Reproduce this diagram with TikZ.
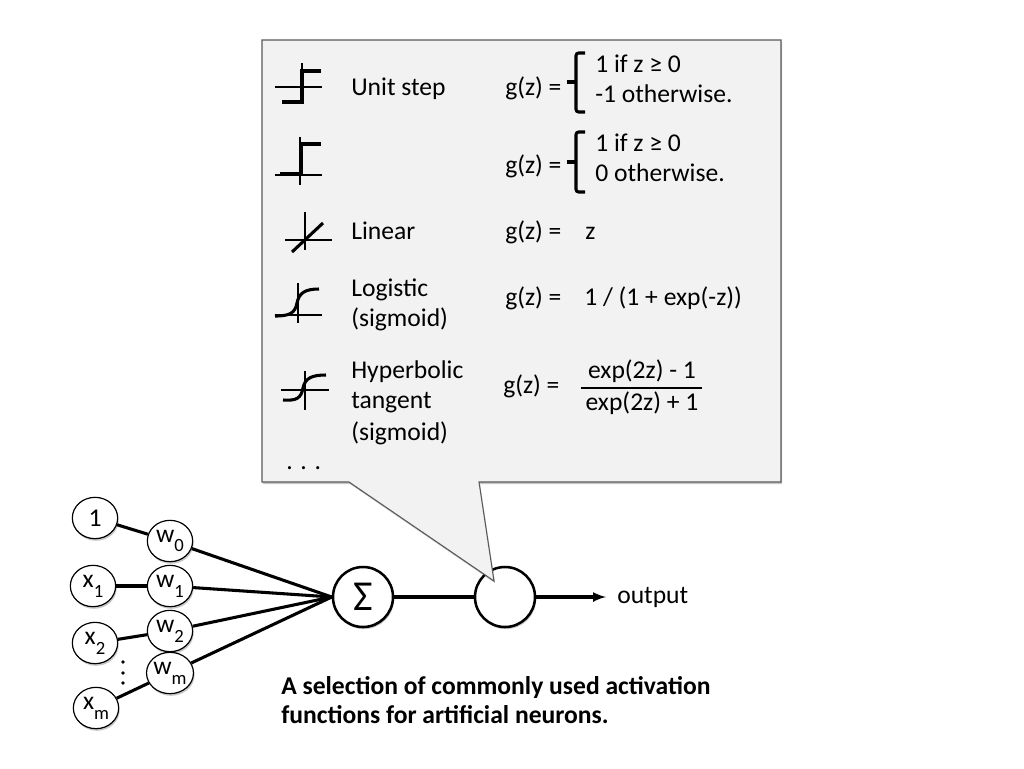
\documentclass[tikz,border=0pt]{standalone}
\usepackage{fontspec}
\setmainfont{Carlito}
\usetikzlibrary{shapes.geometric,shadows}
\newcommand{\lowidx}[1]{\raisebox{-.8ex}{\fontsize{14}{14}\selectfont #1}}
\tikzset{
	softshadow/.style={drop shadow={shadow xshift=.8pt,shadow yshift=-1.6pt,opacity=.22,fill=black}},
	lbl/.style={anchor=base west,inner sep=0pt,font=\fontsize{19.2}{19.2}\selectfont},
	capt/.style={lbl,font=\fontsize{19.2}{19.2}\selectfont\bfseries},
	smallcirc/.style={ellipse,draw,line width=.9pt,fill=white,inner sep=0pt,minimum width=34pt,minimum height=31pt,font=\fontsize{19.2}{19.2}\selectfont,softshadow},
	bigcirc/.style={circle,draw,line width=1.9pt,fill=white,inner sep=0pt,minimum size=45pt,softshadow},
	wire/.style={line width=2.3pt},
	axisline/.style={line width=.8pt},
	curveline/.style={line width=2.3pt,line join=miter},
	bracket/.style={line width=2.3pt,rounded corners=2pt}
}
\begin{document}
\begin{tikzpicture}[x=.75pt,y=-.75pt]
	\useasboundingbox (0,0) rectangle (1024,768);
	\draw (363,597) node[bigcirc,font=\fontsize{32}{32}\selectfont] (sum) {Σ};
	\draw (505,597) node[bigcirc] (act) {};
	\draw (95,518) node[smallcirc] (one) {1};
	\draw (93,586) node[smallcirc] (xone) {x\lowidx{1}};
	\draw (95,643) node[smallcirc] (xtwo) {x\lowidx{2}};
	\draw (96,708) node[smallcirc] (xm) {x\lowidx{m}};
	\draw (170,541) node[smallcirc] (wzero) {w\lowidx{0}};
	\draw (170,586) node[smallcirc] (wone) {w\lowidx{1}};
	\draw (170,631) node[smallcirc] (wtwo) {w\lowidx{2}};
	\draw (170,673) node[smallcirc] (wm) {w\lowidx{m}};
	\fill (123,662) circle (1.4pt);
	\fill (123,673) circle (1.4pt);
	\fill (123,683) circle (1.4pt);
	\draw[wire](one)--(wzero);
	\draw[wire](xone)--(wone);
	\draw[wire](xtwo)--(wtwo);
	\draw[wire](xm)--(wm);
	\draw[wire](wzero)--(sum.west);
	\draw[wire](wone)--(sum.west);
	\draw[wire](wtwo)--(sum.west);
	\draw[wire](wm)--(sum.west);
	\draw[wire](sum)--(act);
	\coordinate (outend) at (606,597);
	\draw[wire,-latex](act)--(outend);
	\draw (617,603) node[lbl] (outlbl) {output};
	\draw[fill=black!5,draw=black!65,line width=.8pt,softshadow] (262,40)--(781,40)--(781,482)--(479,482)--(494,581)--(349,482)--(262,482)--cycle;
	\draw[axisline](302,63)--(302,102);
	\draw[axisline](275,87)--(322,87);
	\draw[curveline](282,102)--(302,102)--(302,71)--(321,71);
	\draw[axisline](300,137)--(300,185);
	\draw[axisline](275,175)--(322,175);
	\draw[curveline](280,174)--(301,174)--(301,144)--(321,144);
	\draw[axisline](305,212)--(305,250);
	\draw[axisline](285,240)--(332,240);
	\draw[curveline](292,252)--(323,223);
	\draw[axisline](298,283)--(298,323);
	\draw[axisline](275,315)--(322,315);
	\draw[curveline](275,316) .. controls (290,316) and (295,313) .. (297,303) .. controls (299,293) and (305,289) .. (319,289);
	\draw[axisline](305,371)--(305,410);
	\draw[axisline](281,390)--(329,390);
	\draw[curveline](283,400) .. controls (297,401) and (301,398) .. (303,388) .. controls (305,378) and (312,375) .. (326,375);
	\draw (351,95) node[lbl] (unitstep) {Unit step};
	\draw (351,239) node[lbl] (linear) {Linear};
	\draw (351,296) node[lbl] (logistic) {Logistic};
	\draw (351,326) node[lbl] (logisticb) {(sigmoid)};
	\draw (351,378) node[lbl] (hyper) {Hyperbolic};
	\draw (351,408) node[lbl] (tangent) {tangent};
	\draw (351,440) node[lbl] (hyperb) {(sigmoid)};
	\draw (286,469) node[lbl] (moredots) {. . .};
	\draw (505,95) node[lbl] (gstep) {g(z) =};
	\draw (505,173) node[lbl] (gheavi) {g(z) =};
	\draw (505,239) node[lbl] (glinear) {g(z) =};
	\draw (505,305) node[lbl] (glogistic) {g(z) =};
	\draw (503,393) node[lbl] (gtanh) {g(z) =};
	\draw[bracket](585,53)--(576,53)--(576,112)--(585,112);
	\draw[bracket](567,82)--(576,82);
	\draw[bracket](585,132)--(576,132)--(576,192)--(585,192);
	\draw[bracket](567,162)--(576,162);
	\draw (595,72) node[lbl] (stepa) {1 if z ≥ 0};
	\draw (595,102) node[lbl] (stepb) {-1 otherwise.};
	\draw (595,151) node[lbl] (heavia) {1 if z ≥ 0};
	\draw (595,181) node[lbl] (heavib) {0 otherwise.};
	\draw (585,239) node[lbl] (linearz) {z};
	\draw (584,305) node[lbl] (logisticf) {1 / (1 + exp(-z))};
	\draw (642,378) node[lbl,anchor=base] (tanhnum) {exp(2z) - 1};
	\draw (642,410) node[lbl,anchor=base] (tanhden) {exp(2z) + 1};
	\coordinate (fracl) at (581,388);
	\coordinate (fracr) at (702,388);
	\draw[line width=.9pt](fracl)--(fracr);
	\draw (281,694) node[capt] (capta) {A selection of commonly used activation};
	\draw (281,723) node[capt] (captb) {functions for artificial neurons.};
\end{tikzpicture}
\end{document}
